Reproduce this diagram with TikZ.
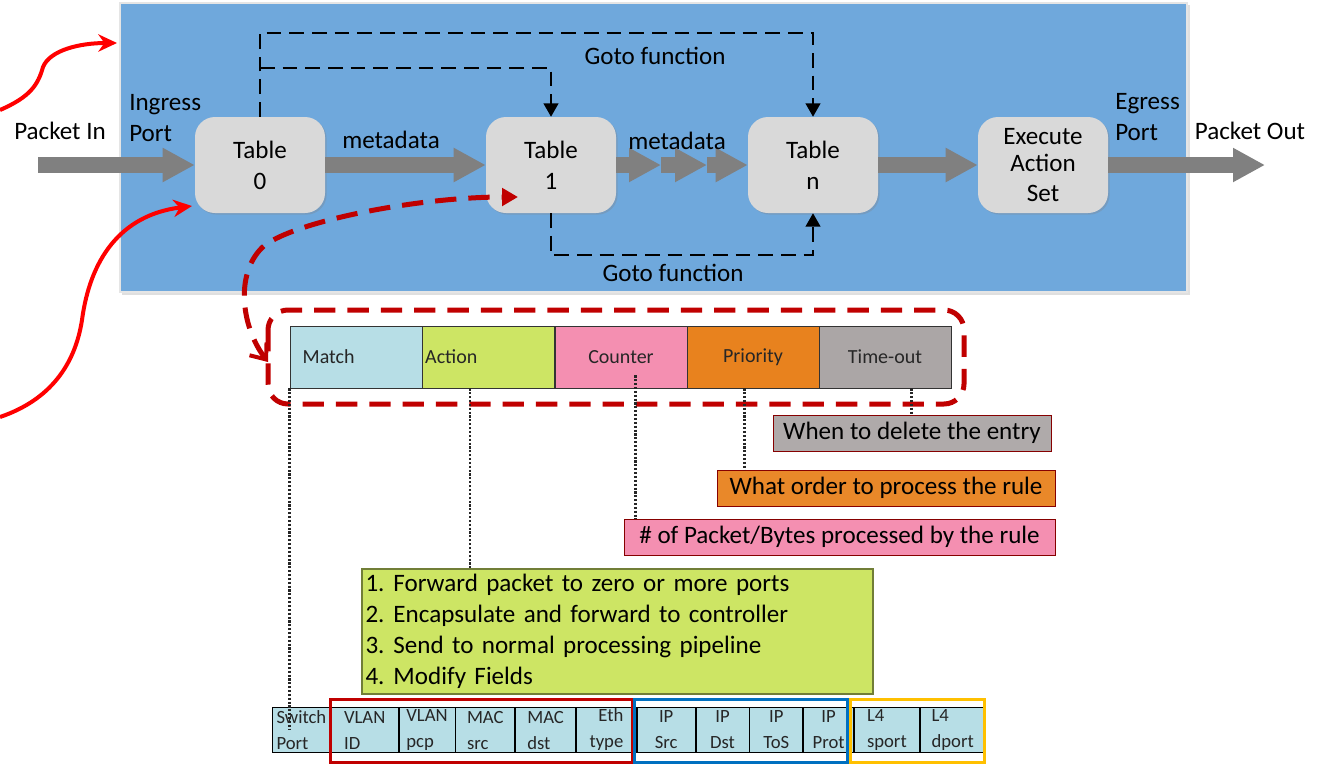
\documentclass[tikz,border=0pt]{standalone}
\usepackage{fontspec}
\setmainfont{Carlito}
\usetikzlibrary{arrows.meta,shadows}
\definecolor{bluebg}{RGB}{111,168,220}
\definecolor{tablegray}{RGB}{217,217,217}
\definecolor{arrowgray}{RGB}{128,128,128}
\definecolor{darkred}{RGB}{192,0,0}
\definecolor{matchc}{RGB}{183,222,230}
\definecolor{actionc}{RGB}{205,229,100}
\definecolor{counterc}{RGB}{244,143,177}
\definecolor{priorityc}{RGB}{232,130,30}
\definecolor{timec}{RGB}{171,166,166}
\definecolor{ipblue}{RGB}{0,112,192}
\definecolor{l4yellow}{RGB}{255,192,0}
\newcommand\fmain{\fontsize{18.8}{23.25}\selectfont}
\begin{document}
\begin{tikzpicture}[x=0.75pt,y=-0.75pt,font=\fmain,
  tbl/.style={rounded corners=15pt, fill=tablegray, minimum width=97.5pt, minimum height=72pt,
    align=center, inner sep=0pt, drop shadow={opacity=0.3,shadow xshift=1.2pt,shadow yshift=-1.2pt}},
  garrow/.style={draw=arrowgray, line width=12pt, -{Triangle[length=24pt,width=24pt]}},
  gotoline/.style={draw=black, line width=1.5pt, dash pattern=on 11pt off 6pt, -{Triangle[length=10pt,width=11pt]}},
  reddash/.style={draw=darkred, line width=3.75pt, dash pattern=on 16pt off 9pt},
  redcurve/.style={draw=red, line width=3pt, -{Stealth[length=14pt,width=13pt]}},
  dotl/.style={draw=black!85, line width=2pt, dash pattern=on 1.6pt off 1.3pt},
  ecell/.style={draw=black!80, line width=0.6pt, minimum width=99pt, minimum height=46.5pt, inner sep=0pt,
    font=\fontsize{15}{18}\selectfont, text=black!85},
  lbox/.style={draw=darkred!70!black, line width=0.6pt, minimum height=27pt, inner sep=0pt},
  fcell/.style={draw=black, line width=0.6pt, fill=matchc, minimum height=33.75pt, inner sep=0pt,
    font=\fontsize{14}{19.5}\selectfont, align=left, anchor=west, text=black!85},
  lbl/.style={inner sep=0pt}
]
\useasboundingbox (0,0) rectangle (1320,765);
% background switch box
\fill[gray!25] (122,5) rectangle (1190,295);
\fill[bluebg, draw=gray!20, line width=0.8pt] (120,3) rectangle (1187,292);

% tables
\node[tbl] (t0) at (260,165) {Table\\0};
\node[tbl] (t1) at (551,165) {Table\\1};
\node[tbl] (tn) at (813,165) {Table\\n};
\node[tbl, font=\fontsize{18.8}{22.5}\selectfont] (ex) at (1043,165) {\raisebox{-2pt}{Execute}\\Action\\Set};

% free ends
\coordinate (pin) at (38,165);
\coordinate (pout) at (1265,165);
\coordinate (m1) at (661,165);
\coordinate (m2) at (707,165);
\coordinate (br) at (260,68);

% gray arrows
\draw[garrow] (pin) -- (t0.west);
\draw[garrow] (t0.east) -- (t1.west);
\draw[garrow] (t1.east) -- (m1);
\draw[garrow] (m1) -- (m2);
\draw[garrow] (m2) -- (tn.west);
\draw[garrow] (tn.east) -- (ex.west);
\draw[garrow] (ex.east) -- (pout);

% goto lines
\draw[gotoline] (t0.north) -- ++(0,-84) -| (tn.north);
\draw[gotoline] (br) -| (t1.north);
\draw[gotoline] (t1.south) -- ++(0,42) -| (tn.south);

% labels
\node[lbl] (pinl) at (60,131) {Packet In};
\node[lbl, anchor=west, align=left] (ingl) at (129,118) {Ingress\\Port};
\node[lbl] (md1) at (391,140) {metadata};
\node[lbl] (md2) at (677,141) {metadata};
\node[lbl] (go1) at (655,56) {Goto function};
\node[lbl] (go2) at (673,273) {Goto function};
\node[lbl, anchor=west, align=left] (egl) at (1115,117) {Egress\\Port};
\node[lbl] (poutl) at (1250,131) {Packet Out};

% red solid curves
\coordinate (c1s) at (0,110);
\coordinate (c1e) at (117,43);
\draw[redcurve] (c1s) .. controls (30,97) and (38,85) .. (43,67) .. controls (50,50) and (80,43) .. (c1e);
\coordinate (c2s) at (0,417);
\coordinate (c2e) at (192,206);
\draw[redcurve] (c2s) .. controls (50,400) and (75,365) .. (82,320) .. controls (90,260) and (120,215) .. (c2e);

% flow entry row
\node[ecell, fill=matchc, text width=80pt, align=left] (match) at (356,357) {Match};
\node[ecell, fill=actionc, text width=95pt, align=left] (action) at (488.5,357) {Action};
\node[ecell, fill=counterc] (counter) at (621,357) {Counter};
\node[ecell, fill=priorityc] (prio) at (753,357) {Priority};
\node[ecell, fill=timec] (tout) at (885,357) {Time-out};

% red dashed frame and curve
\draw[reddash, rounded corners=15pt] (268,310) rectangle (964,404);
\coordinate (rdb) at (268,362);
\coordinate (rdt) at (518,197);
\draw[reddash, {Straight Barb[length=10pt,width=16pt,line width=3pt]}-{Triangle[length=12pt,width=13pt]}]
  (rdb) .. controls (240,325) and (235,270) .. (265,245) .. controls (300,220) and (420,197) .. (rdt);

% explanation boxes
\node[lbox, fill=timec!95!white, minimum width=208.5pt] (lgray) at (912,433) {When to delete the entry};
\node[lbox, fill=priorityc!95!white, minimum width=253.5pt] (lorange) at (886,488) {What order to process the rule};
\node[lbox, fill=counterc, minimum width=323.25pt] (lpink) at (839.5,537) {\# of Packet/Bytes processed by the rule};
\node[draw=black!45!actionc, line width=0.8pt, fill=actionc, minimum width=383.25pt, minimum height=93.75pt,
  text width=378pt, inner xsep=2.6pt, inner ysep=0pt, align=left] (alist) at (617.5,631.5)
  {\makebox[21pt][l]{1.}Forward packet to zero or more ports\\
   \makebox[21pt][l]{2.}Encapsulate and forward to controller\\
   \makebox[21pt][l]{3.}Send to normal processing pipeline\\
   \makebox[21pt][l]{4.}Modify Fields};

% match fields
\node[fcell, minimum width=43.5pt] (swp) at (272,730) {Switch\\Port};
\node[fcell, minimum width=50.25pt] (vid) at (swp.east) {VLAN\\ID};
\node[fcell, minimum width=42pt] (vpcp) at (vid.east) {VLAN\\pcp};
\node[fcell, minimum width=44.25pt] (msrc) at (vpcp.east) {MAC\\src};
\node[fcell, minimum width=45pt] (mdst) at (msrc.east) {MAC\\dst};
\node[fcell, minimum width=45pt, align=right] (eth) at (mdst.east) {Eth\\type};
\node[fcell, minimum width=43.5pt, align=center] (ips) at (eth.east) {IP\\Src};
\node[fcell, minimum width=39.75pt, align=center] (ipd) at (ips.east) {IP\\Dst};
\node[fcell, minimum width=39.75pt, align=center] (ipt) at (ipd.east) {IP\\ToS};
\node[fcell, minimum width=37.5pt, align=center] (ipp) at (ipt.east) {IP\\Prot};
\node[fcell, minimum width=48.75pt] (l4s) at (ipp.east) {L4\\sport};
\node[fcell, minimum width=48.75pt] (l4d) at (l4s.east) {L4\\dport};

% group frames
\draw[darkred, line width=2.25pt] (330,699) rectangle (632,762);
\draw[ipblue, line width=2.25pt] (634,699) rectangle (847,762);
\draw[l4yellow, line width=2.25pt] (850,699) rectangle (984,762);

% dotted leaders
\draw[dotl] (match.south west) -- (match.south west |- swp.center);
\draw[dotl] ([xshift=36pt]action.south west) -- ([xshift=36pt]action.south west |- alist.north);
\draw[dotl] ([xshift=60.75pt,yshift=9.75pt]counter.south west) -- ([xshift=60.75pt]counter.south west |- lpink.north);
\draw[dotl] ([xshift=43.5pt]prio.south west) -- ([xshift=43.5pt]prio.south west |- lorange.north);
\draw[dotl] ([xshift=69.75pt]tout.south west) -- ([xshift=69.75pt]tout.south west |- lgray.north);
\end{tikzpicture}
\end{document}
